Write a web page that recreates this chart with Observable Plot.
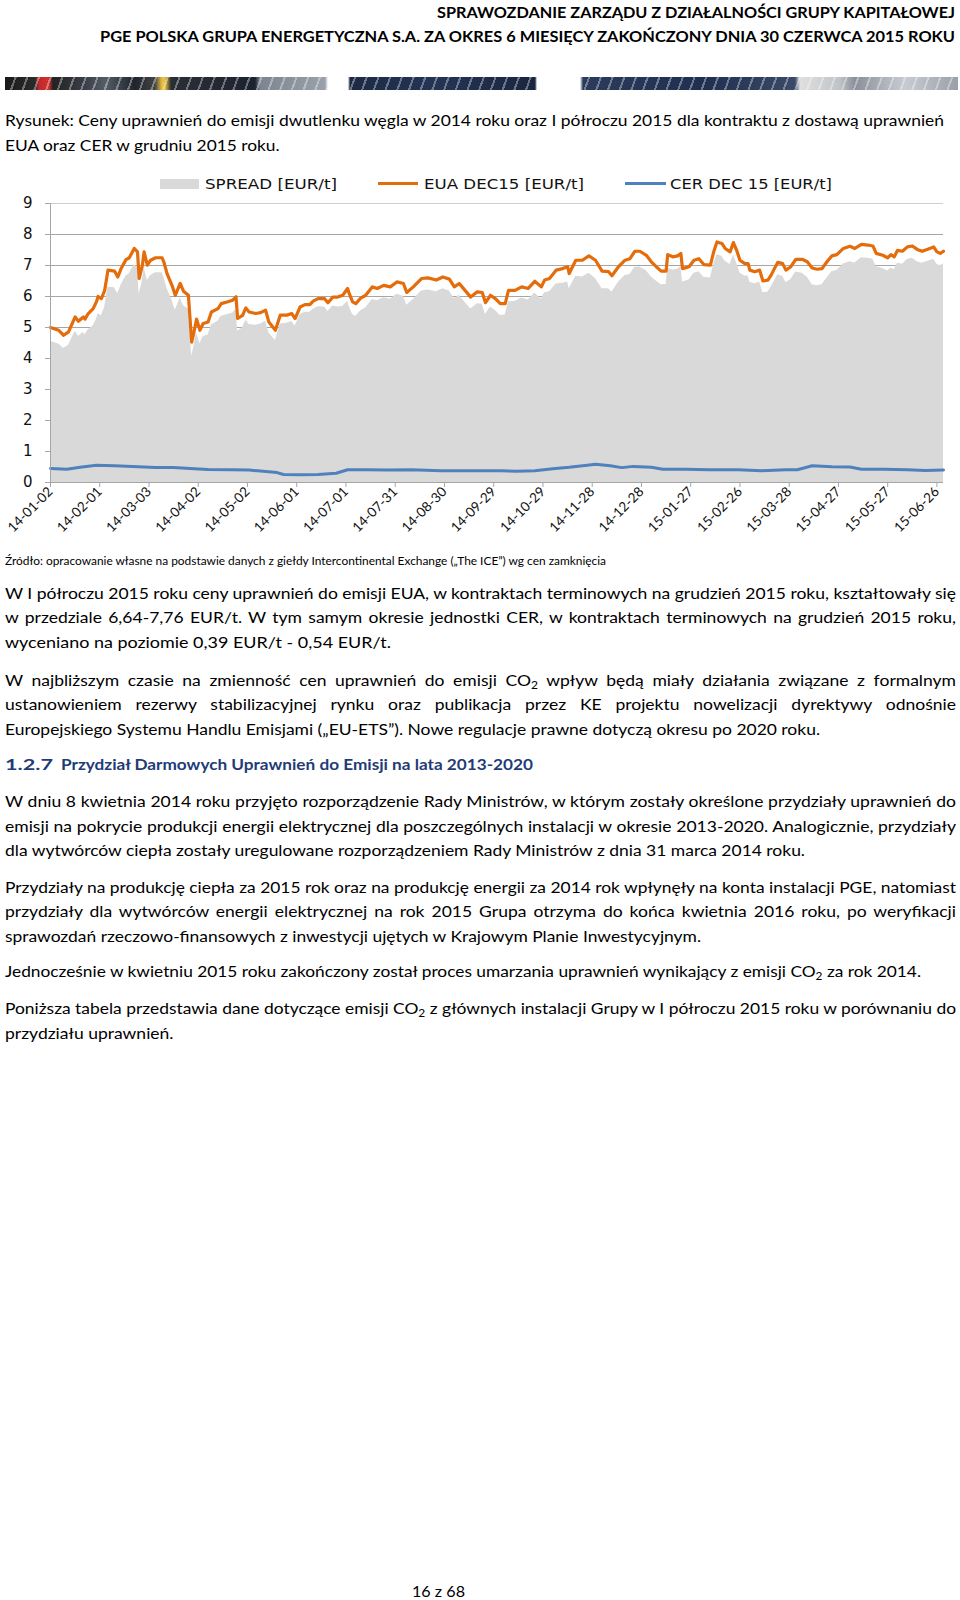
<!DOCTYPE html>
<html><head><meta charset="utf-8">
<script src="https://cdn.jsdelivr.net/npm/d3@7"></script>
<script src="https://cdn.jsdelivr.net/npm/@observablehq/plot@0.6"></script>
<style>
body{margin:0;background:#fff;}
#page{position:relative;width:960px;height:1600px;overflow:hidden;font-family:Lato,"Open Sans",sans-serif;color:#000;background:#fff;}
.ln{position:absolute;white-space:nowrap;line-height:20px;font-size:16px;transform-origin:0 50%;}
.hd{font-weight:bold;font-size:15px;}
.h2{font-weight:bold;color:#1f3c78;}
.src{font-size:11.5px;}
.lg{font-family:"DejaVu Sans",sans-serif;font-size:14px;color:#111;}
sub{font-size:11px;vertical-align:-3px;line-height:0;}
#stripe{position:absolute;left:5px;top:77px;width:953px;height:13px;
background:
 repeating-linear-gradient(110deg, rgba(255,255,255,0) 0 9px, rgba(255,255,255,.35) 9px 11px),
 linear-gradient(90deg,#1a1a1a 0,#2b2b2b 30px,#c0282a 34px,#d23030 44px,#222 48px,#3a3f48 80px,#555c66 100px,#20252c 130px,#444 150px,#e8c040 157px,#e8c040 160px,#2a2f36 166px,#1d2230 250px,#7d8590 255px,#9aa1aa 320px,#fff 323px,#fff 343px,#1c2a44 345px,#243455 430px,#1a2640 530px,#fff 532px,#fff 575px,#2a3b5c 578px,#1f2f50 700px,#3a4a68 790px,#e0e0e0 795px,#bfc3c8 835px,#8a9099 850px,#c8ccd2 900px,#9aa0a8 953px);}
#chart{position:absolute;left:0;top:190px;}
</style></head>
<body><div id="page">
<div class="ln hd" style="left:437px;top:2px" data-w="518">SPRAWOZDANIE ZARZĄDU Z DZIAŁALNOŚCI GRUPY KAPITAŁOWEJ</div>
<div class="ln hd" style="left:100px;top:25.7px" data-w="855">PGE POLSKA GRUPA ENERGETYCZNA S.A. ZA OKRES 6 MIESIĘCY ZAKOŃCZONY DNIA 30 CZERWCA 2015 ROKU</div>
<div id="stripe"></div>
<div class="ln" style="left:5px;top:110.4px" data-w="939">Rysunek: Ceny uprawnień do emisji dwutlenku węgla w 2014 roku oraz I półroczu 2015 dla kontraktu z dostawą uprawnień</div>
<div class="ln" style="left:5px;top:134.9px" data-w="274.5">EUA oraz CER w grudniu 2015 roku.</div>

<div style="position:absolute;left:160px;top:178.5px;width:39px;height:10px;background:#d9d9d9"></div>
<div class="ln lg" style="left:205px;top:173.7px" data-w="132">SPREAD [EUR/t]</div>
<div style="position:absolute;left:378px;top:182.2px;width:40px;height:3px;background:#e46c0a"></div>
<div class="ln lg" style="left:423.5px;top:173.7px" data-w="160">EUA DEC15 [EUR/t]</div>
<div style="position:absolute;left:624.5px;top:182.2px;width:41px;height:3px;background:#4f81bd"></div>
<div class="ln lg" style="left:669.5px;top:173.7px" data-w="162">CER DEC 15 [EUR/t]</div>
<div id="chart"></div>

<div class="ln src" style="left:5px;top:551.2px" data-w="601">Źródło: opracowanie własne na podstawie danych z giełdy Intercontinental Exchange („The ICE”) wg cen zamknięcia</div>

<div class="ln" style="left:5px;top:582.9px" data-m="j" data-w="951">W I półroczu 2015 roku ceny uprawnień do emisji EUA, w kontraktach terminowych na grudzień 2015 roku, kształtowały się</div>
<div class="ln" style="left:5px;top:607.3px" data-m="j" data-w="951">w przedziale 6,64-7,76 EUR/t. W tym samym okresie jednostki CER, w kontraktach terminowych na grudzień 2015 roku,</div>
<div class="ln bd" style="left:5px;top:631.8px" data-w="386">wyceniano na poziomie 0,39 EUR/t - 0,54 EUR/t.</div>

<div class="ln" style="left:5px;top:669.6px" data-m="j" data-w="951">W najbliższym czasie na zmienność cen uprawnień do emisji CO<sub>2</sub> wpływ będą miały działania związane z formalnym</div>
<div class="ln" style="left:5px;top:694.1px" data-m="j" data-w="951">ustanowieniem rezerwy stabilizacyjnej rynku oraz publikacja przez KE projektu nowelizacji dyrektywy odnośnie</div>
<div class="ln bd" style="left:5px;top:718.6px" data-w="815">Europejskiego Systemu Handlu Emisjami („EU-ETS”). Nowe regulacje prawne dotyczą okresu po 2020 roku.</div>

<div class="ln h2" style="left:5px;top:754.3px" data-w="48">1.2.7</div>
<div class="ln h2" style="left:61px;top:754.3px" data-w="472">Przydział Darmowych Uprawnień do Emisji na lata 2013-2020</div>

<div class="ln" style="left:5px;top:791px" data-m="j" data-w="951">W dniu 8 kwietnia 2014 roku przyjęto rozporządzenie Rady Ministrów, w którym zostały określone przydziały uprawnień do</div>
<div class="ln" style="left:5px;top:815.5px" data-m="j" data-w="951">emisji na pokrycie produkcji energii elektrycznej dla poszczególnych instalacji w okresie 2013-2020. Analogicznie, przydziały</div>
<div class="ln bd" style="left:5px;top:840px" data-w="800">dla wytwórców ciepła zostały uregulowane rozporządzeniem Rady Ministrów z dnia 31 marca 2014 roku.</div>

<div class="ln" style="left:5px;top:876.7px" data-m="j" data-w="951">Przydziały na produkcję ciepła za 2015 rok oraz na produkcję energii za 2014 rok wpłynęły na konta instalacji PGE, natomiast</div>
<div class="ln" style="left:5px;top:901.2px" data-m="j" data-w="951">przydziały dla wytwórców energii elektrycznej na rok 2015 Grupa otrzyma do końca kwietnia 2016 roku, po weryfikacji</div>
<div class="ln bd" style="left:5px;top:925.7px" data-w="696">sprawozdań rzeczowo-finansowych z inwestycji ujętych w Krajowym Planie Inwestycyjnym.</div>

<div class="ln bd" style="left:5px;top:961.4px" data-w="916">Jednocześnie w kwietniu 2015 roku zakończony został proces umarzania uprawnień wynikający z emisji CO<sub>2</sub> za rok 2014.</div>

<div class="ln" style="left:5px;top:998.2px" data-m="j" data-w="951">Poniższa tabela przedstawia dane dotyczące emisji CO<sub>2</sub> z głównych instalacji Grupy w I półroczu 2015 roku w porównaniu do</div>
<div class="ln" style="left:5px;top:1022.7px" data-w="168.5">przydziału uprawnień.</div>

<div class="ln" style="left:412px;top:1580.8px" data-w="53">16 z 68</div>
</div>
<script>
// ---- chart data ----
const startDate = "2014-01-02";           // first trading day shown
const lastDay = 544;                        // 2015-06-30, days after startDate
const tickLabels = ["14-01-02","14-02-01","14-03-03","14-04-02","14-05-02","14-06-01","14-07-01","14-07-31","14-08-30","14-09-29","14-10-29","14-11-28","14-12-28","15-01-27","15-02-26","15-03-28","15-04-27","15-05-27","15-06-26"];
const yTicks = [0,1,2,3,4,5,6,7,8,9];
const seriesNames = ["SPREAD [EUR/t]","EUA DEC15 [EUR/t]","CER DEC 15 [EUR/t]"];

// days after startDate for the EUA / SPREAD readings
const euaDays = [0,5,8,11,15,17,20,21,23,26,28,29,31,33,35,39,41,43,46,48,51,53,54,56,57,59,61,64,68,69,71,74,76,79,81,84,86,87,89,91,93,96,98,102,104,108,111,113,114,117,119,121,125,128,131,133,137,140,144,147,149,152,155,158,160,163,167,169,172,175,178,181,182,184,186,189,192,196,199,203,207,211,215,217,221,226,230,235,239,243,246,249,252,256,260,263,265,268,271,274,277,279,283,287,291,295,299,301,304,308,312,315,316,320,324,328,332,336,340,342,346,350,353,356,359,363,366,369,372,375,376,379,382,384,385,389,392,395,398,402,404,406,409,411,414,416,418,420,423,425,426,429,432,434,437,439,441,443,446,448,451,454,458,461,464,467,470,473,476,479,483,487,490,494,498,501,503,507,510,512,514,516,519,522,525,528,531,534,538,540,542,544];
const euaValues = [5.00,4.91,4.75,4.86,5.34,5.20,5.34,5.27,5.45,5.61,5.83,6.00,5.93,6.20,6.85,6.82,6.63,6.90,7.19,7.25,7.55,7.44,6.58,7.01,7.44,7.01,7.17,7.25,7.25,7.12,6.74,6.36,6.04,6.42,6.17,6.04,4.53,4.75,5.27,4.91,5.13,5.18,5.50,5.61,5.77,5.83,5.88,5.99,5.29,5.39,5.63,5.50,5.45,5.48,5.56,5.18,4.91,5.40,5.40,5.45,5.29,5.66,5.74,5.74,5.85,5.93,5.93,5.80,5.98,5.98,6.04,6.26,6.09,5.83,5.77,5.95,6.04,6.31,6.26,6.36,6.31,6.47,6.42,6.13,6.31,6.58,6.60,6.53,6.63,6.56,6.31,6.42,6.23,5.98,6.15,6.13,5.80,6.04,5.93,5.77,5.77,6.20,6.20,6.31,6.26,6.49,6.31,6.53,6.58,6.85,6.90,6.96,6.74,7.17,7.17,7.31,7.17,6.82,6.80,6.67,6.96,7.17,7.22,7.46,7.46,7.33,7.12,6.96,6.82,6.82,7.35,7.28,7.31,7.39,6.90,6.96,7.17,7.22,7.03,7.01,7.44,7.76,7.71,7.55,7.44,7.74,7.49,7.17,7.06,7.06,6.85,6.80,6.85,6.50,6.53,6.69,6.90,7.10,7.06,6.85,6.96,7.20,7.20,7.12,6.92,6.88,6.90,7.12,7.31,7.35,7.55,7.62,7.55,7.68,7.66,7.63,7.39,7.33,7.25,7.35,7.28,7.49,7.46,7.60,7.63,7.52,7.46,7.52,7.60,7.44,7.39,7.46];
const spreadValues = [4.55,4.47,4.32,4.43,4.88,4.72,4.84,4.77,4.93,5.06,5.27,5.44,5.38,5.65,6.30,6.28,6.09,6.37,6.66,6.73,7.03,6.93,6.07,6.51,6.94,6.52,6.68,6.77,6.77,6.64,6.26,5.88,5.56,5.95,5.71,5.59,4.08,4.30,4.83,4.48,4.70,4.76,5.08,5.20,5.36,5.42,5.47,5.58,4.88,4.99,5.23,5.10,5.07,5.11,5.20,4.83,4.58,5.11,5.14,5.19,5.04,5.41,5.49,5.49,5.59,5.67,5.66,5.52,5.69,5.66,5.68,5.85,5.68,5.42,5.36,5.54,5.63,5.90,5.86,5.96,5.91,6.07,6.01,5.72,5.90,6.18,6.21,6.15,6.25,6.18,5.93,6.04,5.85,5.60,5.77,5.75,5.42,5.66,5.55,5.39,5.40,5.83,5.84,5.95,5.89,6.11,5.91,6.12,6.15,6.40,6.43,6.47,6.25,6.65,6.63,6.75,6.58,6.25,6.25,6.14,6.46,6.68,6.71,6.94,6.95,6.83,6.63,6.50,6.38,6.39,6.92,6.85,6.88,6.96,6.47,6.53,6.75,6.80,6.62,6.60,7.03,7.35,7.30,7.14,7.03,7.33,7.08,6.76,6.66,6.66,6.46,6.41,6.47,6.12,6.14,6.30,6.50,6.70,6.65,6.44,6.55,6.79,6.75,6.62,6.38,6.35,6.38,6.60,6.80,6.84,7.05,7.12,7.08,7.25,7.23,7.20,6.96,6.90,6.82,6.92,6.86,7.07,7.04,7.19,7.23,7.12,7.07,7.13,7.20,7.04,6.99,7.06];
// CER readings
const cerDays = [0,10,18,28,39,50,64,75,85,96,110,121,128,138,142,153,163,174,181,192,206,220,238,256,274,284,295,306,316,327,332,341,348,355,366,373,387,401,419,433,448,455,464,476,487,494,508,522,533,544];
const cerValues = [0.45,0.43,0.49,0.56,0.54,0.52,0.48,0.48,0.45,0.42,0.41,0.40,0.37,0.32,0.26,0.25,0.26,0.30,0.41,0.41,0.40,0.41,0.38,0.38,0.38,0.36,0.38,0.44,0.49,0.56,0.59,0.54,0.48,0.52,0.49,0.43,0.43,0.41,0.41,0.38,0.41,0.41,0.54,0.51,0.50,0.43,0.43,0.41,0.39,0.40];

const colors = {spread:"#d9d9d9", eua:"#e46c0a", cer:"#4f81bd", grid:"#a6a6a6"};

const t0 = d3.utcParse("%Y-%m-%d")(startDate);
const toDate = d => d3.utcDay.offset(t0, d);
const eua = euaDays.map((d,i)=>({date:toDate(d), value:euaValues[i]}));
const spread = euaDays.map((d,i)=>({date:toDate(d), value:spreadValues[i]}));
const cer = cerDays.map((d,i)=>({date:toDate(d), value:cerValues[i]}));
const tickDates = tickLabels.map(s=>d3.utcParse("%y-%m-%d")(s));

const chart = Plot.plot({
  width:960, height:350,
  marginLeft:50, marginRight:17, marginTop:13, marginBottom:58,
  style:{fontFamily:"Lato, sans-serif", fontSize:"13px", color:"#000", background:"transparent", overflow:"visible"},
  x:{type:"utc", domain:[toDate(0), toDate(lastDay)]},
  y:{domain:[0,9]},
  marks:[
    Plot.ruleY(yTicks.filter(v=>v>0 && v<9), {stroke:colors.grid, strokeWidth:1}),
    Plot.ruleY([9], {stroke:"#cfcfcf", strokeWidth:1}),
    Plot.areaY(spread, {x:"date", y:"value", fill:colors.spread}),
    Plot.line(eua, {x:"date", y:"value", stroke:colors.eua, strokeWidth:3.2, strokeLinejoin:"round"}),
    Plot.line(cer, {x:"date", y:"value", stroke:colors.cer, strokeWidth:3, strokeLinejoin:"round"}),
    Plot.ruleX([toDate(0)], {stroke:colors.grid}),
    Plot.ruleY([0], {stroke:colors.grid}),
    Plot.axisY({ticks:yTicks, tickSize:5, tickPadding:13, stroke:colors.grid, fill:"#111", fontSize:15, fontFamily:"DejaVu Sans, sans-serif", label:null}),
    Plot.axisX({ticks:tickDates, tickFormat:d3.utcFormat("%y-%m-%d"), tickRotate:-45, tickSize:5, tickPadding:2, stroke:colors.grid, fill:"#111", fontSize:13.5, label:null})
  ]
});
document.getElementById("chart").appendChild(chart);

function fitLines(){
  const all = Array.from(document.querySelectorAll(".ln"));
  all.forEach(el=>{ el.style.wordSpacing = ""; el.style.transform = ""; });
  // typical horizontal scale of the body face, from the unjustified body lines
  const ratios = all.filter(el=>el.classList.contains("bd")).map(el=>(+el.dataset.w)/el.getBoundingClientRect().width);
  const s = ratios.length ? d3.mean(ratios) : 1;
  all.forEach(el=>{
    const target = +el.dataset.w;
    if(!target) return;
    const w = el.getBoundingClientRect().width;
    if(el.dataset.m === "j" && w*s < target){
      const n = (el.textContent.match(/ /g)||[]).length;
      el.style.transform = `scaleX(${s})`;
      if(n>0) el.style.wordSpacing = ((target/s - w)/n)+"px";
    } else {
      el.style.transform = `scaleX(${target/w})`;
    }
  });
}
fitLines();
if(document.fonts && document.fonts.ready) document.fonts.ready.then(fitLines);
</script>
</body></html>
